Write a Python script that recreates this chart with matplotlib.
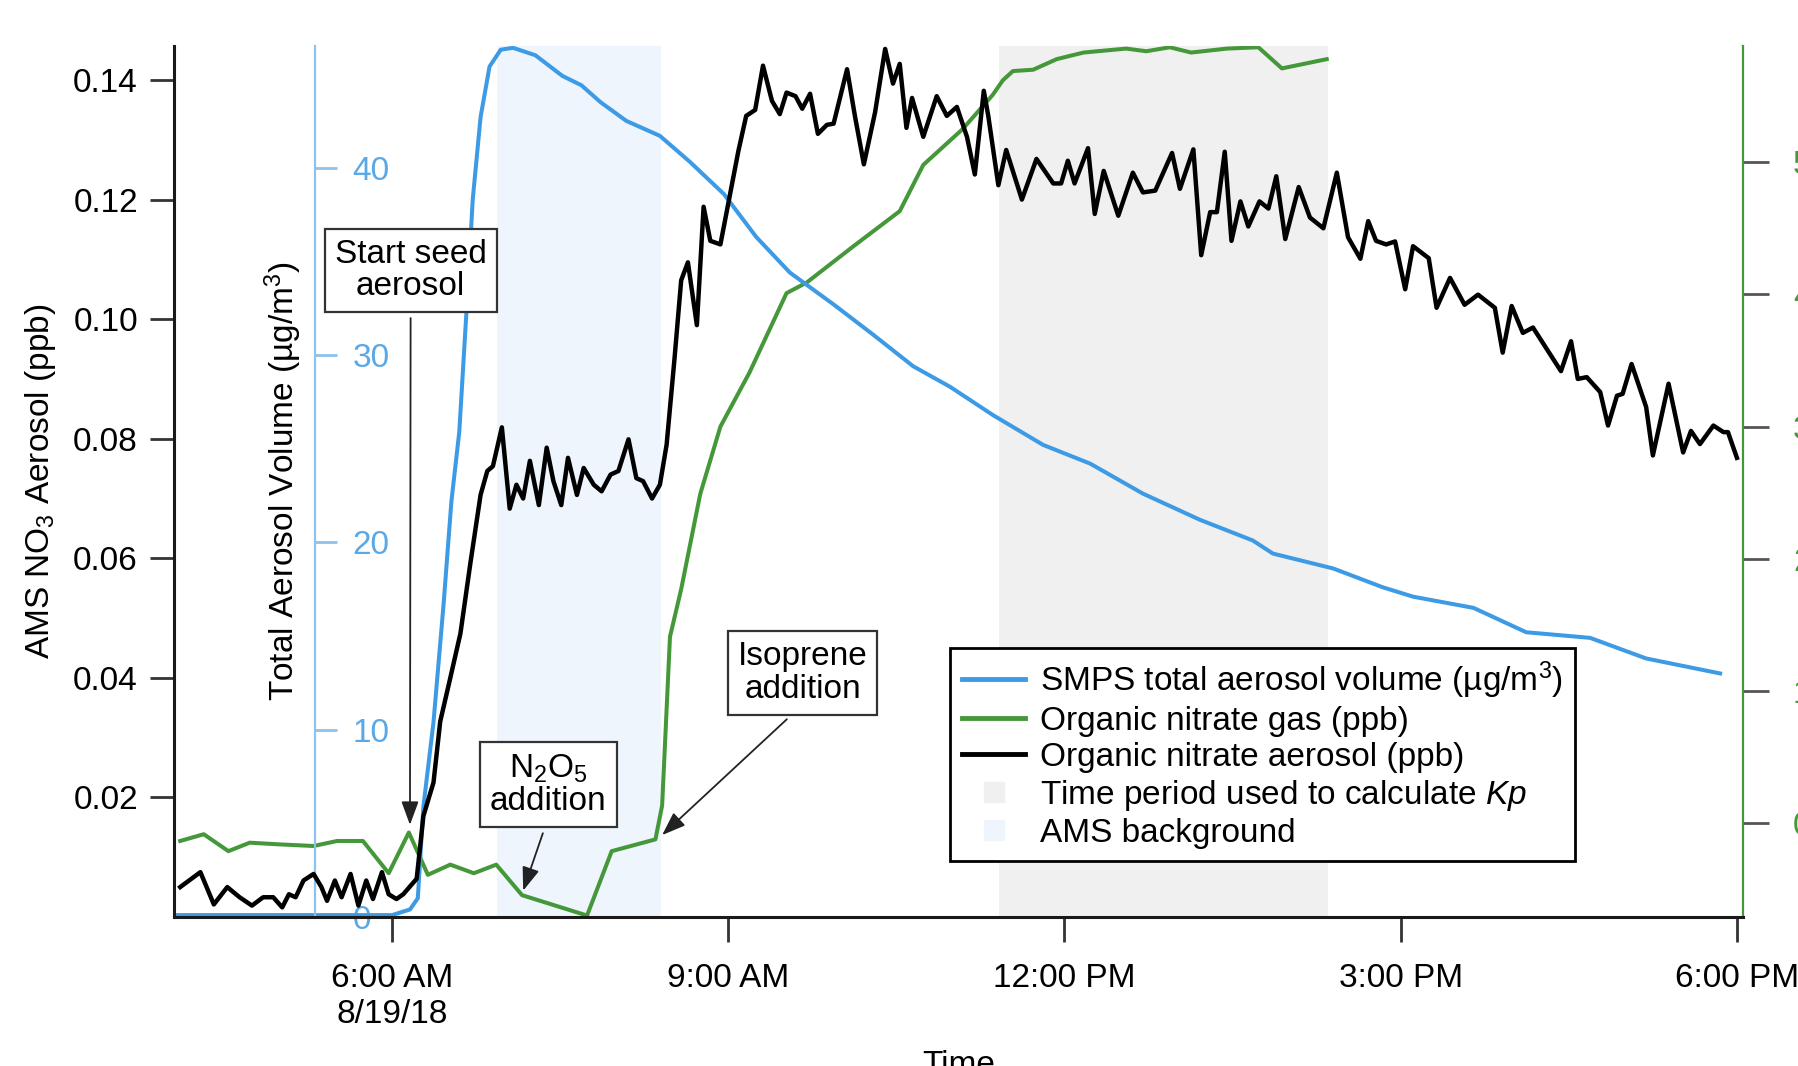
import numpy as np
import matplotlib
matplotlib.use('Agg')
import matplotlib.pyplot as plt
from matplotlib.lines import Line2D

plt.rcParams['font.family'] = ['Liberation Sans', 'DejaVu Sans']
plt.rcParams['mathtext.fontset'] = 'custom'
plt.rcParams['mathtext.rm'] = 'Liberation Sans'
plt.rcParams['mathtext.it'] = 'Liberation Sans:italic'
plt.rcParams['font.size'] = 24

# ---- data (time in hours on 8/19/18) ----
# organic nitrate aerosol, AMS (ppb)
aer_hr = [4.11, 4.29, 4.41, 4.53, 4.64, 4.75, 4.85, 4.94, 5.02, 5.08, 5.14, 5.21, 5.30, 5.37, 5.42,
          5.49, 5.55, 5.63, 5.70, 5.77, 5.83, 5.91, 5.97, 6.04, 6.10, 6.22, 6.28, 6.37, 6.43, 6.52,
          6.61, 6.70, 6.79, 6.85, 6.90, 6.98, 7.05, 7.11, 7.17, 7.23, 7.31, 7.38, 7.44, 7.51, 7.57,
          7.65, 7.71, 7.80, 7.87, 7.95, 8.02, 8.11, 8.18, 8.24, 8.32, 8.39, 8.45, 8.52, 8.58, 8.64,
          8.72, 8.78, 8.84, 8.93, 9.01, 9.09, 9.16, 9.24, 9.31, 9.39, 9.46, 9.52, 9.60, 9.66, 9.73,
          9.80, 9.88, 9.94, 10.06, 10.13, 10.21, 10.31, 10.40, 10.47, 10.53, 10.59, 10.64, 10.74,
          10.86, 10.95, 11.04, 11.13, 11.20, 11.28, 11.32, 11.41, 11.48, 11.62, 11.75, 11.90, 11.97,
          12.03, 12.09, 12.21, 12.27, 12.35, 12.48, 12.61, 12.70, 12.81, 12.96, 13.03, 13.15, 13.22,
          13.30, 13.36, 13.43, 13.49, 13.57, 13.64, 13.74, 13.82, 13.89, 13.97, 14.09, 14.19, 14.31,
          14.43, 14.53, 14.64, 14.71, 14.78, 14.87, 14.95, 15.04, 15.11, 15.25, 15.32, 15.44, 15.57,
          15.69, 15.84, 15.91, 15.99, 16.09, 16.18, 16.43, 16.52, 16.58, 16.66, 16.78, 16.85, 16.93,
          16.98, 17.06, 17.19, 17.25, 17.39, 17.52, 17.59, 17.67, 17.79, 17.88, 17.92, 18.00]
aer_ppb = [.0050, .0075, .0021, .0050, .0033, .0019, .0033, .0033, .0016, .0038, .0033, .0061, .0072,
           .0050, .0027, .0061, .0033, .0072, .0019, .0061, .0030, .0075, .0038, .0030, .0038, .0064,
           .0169, .0225, .0327, .0400, .0474, .0593, .0706, .0746, .0754, .0819, .0683, .0723, .0700,
           .0763, .0689, .0785, .0729, .0689, .0768, .0706, .0751, .0723, .0712, .0740, .0746, .0799,
           .0734, .0729, .0700, .0723, .0790, .0933, .1065, .1095, .0990, .1188, .1131, .1125, .1203,
           .1281, .1340, .1350, .1424, .1365, .1343, .1379, .1373, .1352, .1377, .1310, .1325, .1327,
           .1418, .1340, .1259, .1346, .1452, .1394, .1427, .1320, .1370, .1305, .1373, .1340, .1355,
           .1305, .1242, .1382, .1340, .1224, .1283, .1200, .1268, .1227, .1227, .1265, .1227, .1286,
           .1176, .1248, .1173, .1245, .1212, .1215, .1278, .1218, .1284, .1107, .1179, .1179, .1280,
           .1131, .1197, .1155, .1197, .1185, .1239, .1134, .1221, .1170, .1152, .1245, .1137, .1101,
           .1164, .1131, .1125, .1130, .1050, .1122, .1102, .1019, .1069, .1024, .1041, .1019, .0944,
           .1022, .0977, .0986, .0913, .0963, .0900, .0903, .0878, .0822, .0872, .0875, .0925, .0853,
           .0772, .0892, .0777, .0813, .0791, .0822, .0811, .0811, .0768]

# organic nitrate gas (ppb)
gas_hr = [4.11, 4.32, 4.54, 4.73, 5.00, 5.30, 5.51, 5.74, 5.97, 6.15, 6.32, 6.52, 6.73, 6.93, 7.16,
          7.74, 7.96, 8.35, 8.41, 8.48, 8.58, 8.75, 8.93, 9.19, 9.52, 9.70, 10.11, 10.53, 10.74,
          11.09, 11.36, 11.45, 11.54, 11.72, 11.93, 12.17, 12.55, 12.73, 12.94, 13.13, 13.45, 13.73,
          13.94, 14.34]
gas_ppb = [-0.135, -0.084, -0.212, -0.148, -0.161, -0.173, -0.135, -0.135, -0.379, -0.071, -0.391,
           -0.314, -0.379, -0.314, -0.545, -0.699, -0.212, -0.123, 0.133, 1.41, 1.77, 2.49, 3.00,
           3.41, 4.01, 4.09, 4.36, 4.63, 4.98, 5.25, 5.51, 5.62, 5.69, 5.70, 5.78, 5.83, 5.86, 5.84,
           5.87, 5.83, 5.86, 5.87, 5.71, 5.78]

# SMPS total aerosol volume (ug/m3)
vol_hr = [4.09, 5.00, 6.00, 6.16, 6.23, 6.28, 6.37, 6.46, 6.53, 6.60, 6.67, 6.72, 6.79, 6.87, 6.97,
          7.08, 7.28, 7.52, 7.69, 7.86, 8.09, 8.39, 8.66, 8.96, 9.25, 9.55, 9.94, 10.29, 10.65,
          10.98, 11.36, 11.81, 12.23, 12.70, 13.21, 13.68, 13.86, 14.40, 14.84, 15.11, 15.65,
          16.12, 16.69, 17.19, 17.85]
vol_um3 = [0.1, 0.1, 0.1, 0.4, 1.0, 5.9, 10.4, 16.7, 22.2, 25.9, 32.9, 38.3, 42.7, 45.4, 46.3, 46.4,
           46.0, 44.9, 44.4, 43.5, 42.5, 41.7, 40.3, 38.6, 36.3, 34.4, 32.7, 31.1, 29.4, 28.3, 26.8,
           25.2, 24.2, 22.6, 21.2, 20.1, 19.4, 18.6, 17.6, 17.1, 16.5, 15.2, 14.9, 13.8, 13.0]

ams_bg = (6.94, 8.40)       # AMS background period
kp_period = (11.42, 14.35)  # period used for Kp

xticks = [6, 9, 12, 15, 18]
xtick_labels = ['6:00 AM\n8/19/18', '9:00 AM', '12:00 PM', '3:00 PM', '6:00 PM']
legend_labels = ['SMPS total aerosol volume (µg/m$^3$)', 'Organic nitrate gas (ppb)',
                 'Organic nitrate aerosol (ppb)', 'Time period used to calculate $\\mathit{Kp}$',
                 'AMS background']

BLUE = '#3D9BE6'
BLUE_AX = '#8CC2EC'
GREEN = '#45983A'
KP_C = '#F0F0F0'
AMS_C = '#EEF5FD'

fig = plt.figure(figsize=(17.98, 10.66), dpi=100)
ax = fig.add_axes([0.0968, 0.1398, 0.8726, 0.8171])
ax_g = ax.twinx()
ax_v = ax.twinx()
ax_g.set_zorder(1)
ax_v.set_zorder(2)
ax.set_zorder(3)
ax.patch.set_visible(False)

# shaded periods (drawn on the lowest axes)
ax_g.axvspan(*ams_bg, color=AMS_C, lw=0)
ax_g.axvspan(*kp_period, color=KP_C, lw=0)

ax_g.plot(gas_hr, gas_ppb, color=GREEN, lw=2.9)
ax_v.plot(vol_hr, vol_um3, color=BLUE, lw=2.9)
ax.plot(aer_hr, aer_ppb, color='black', lw=3.2)

ax.set_xlim(4.055, 18.054)
ax.set_ylim(0, 0.1457)
ax_v.set_ylim(0, 46.5)
ax_g.set_ylim(-0.71, 5.88)

# main axis
for s in ['top', 'right']:
    ax.spines[s].set_visible(False)
for s in ['left', 'bottom']:
    ax.spines[s].set_linewidth(2.2)
    ax.spines[s].set_color('#1a1a1a')
ax.set_yticks([0.02, 0.04, 0.06, 0.08, 0.10, 0.12, 0.14])
ax.yaxis.set_major_formatter(plt.FormatStrFormatter('%.2f'))
ax.set_xticks(xticks)
ax.set_xticklabels(xtick_labels)
ax.tick_params(axis='y', length=17, width=2, pad=9, color='#333333')
ax.tick_params(axis='x', length=18, width=2, pad=15, color='#333333')
ax.set_ylabel('AMS NO$_3$ Aerosol (ppb)')
ax.yaxis.set_label_coords(-0.074, 0.5)
ax.set_xlabel('Time')
ax.xaxis.set_label_coords(0.5, -0.153)

# blue volume axis, inside the plot
for s in ['left', 'top', 'bottom']:
    ax_v.spines[s].set_visible(False)
ax_v.spines['right'].set_position(('axes', 0.0899))
ax_v.spines['right'].set_color(BLUE_AX)
ax_v.spines['right'].set_linewidth(1.6)
ax_v.set_yticks([0, 10, 20, 30, 40])
ax_v.tick_params(axis='y', length=16, width=2, pad=11, color=BLUE_AX, labelcolor='#5AA8E6')
ax_v.set_ylabel('Total Aerosol Volume (µg/m$^3$)')
ax_v.yaxis.set_label_position('left')
ax_v.yaxis.set_label_coords(0.083, 0.5)

# green gas axis
for s in ['left', 'top', 'bottom']:
    ax_g.spines[s].set_visible(False)
ax_g.spines['right'].set_color(GREEN)
ax_g.spines['right'].set_linewidth(1.6)
ax_g.set_yticks([0, 1, 2, 3, 4, 5])
ax_g.tick_params(axis='y', length=19, width=2, pad=17, color='#555555', labelcolor=GREEN)

# annotations
box = dict(boxstyle='square,pad=0.3', fc='white', ec='#333333', lw=1.6)
arrow = dict(arrowstyle='-|>,head_length=0.6,head_width=0.22', color='#222222', lw=1.3,
             shrinkA=4, shrinkB=0, relpos=(0.5, 0))
ax.annotate('Start seed\naerosol', xy=(6.16, 0.0154), xytext=(6.166, 0.1082), ha='center',
            va='center', bbox=box, arrowprops=arrow, linespacing=1.05)
ax.annotate('N$_2$O$_5$\naddition', xy=(7.17, 0.0044), xytext=(7.395, 0.0221), ha='center',
            va='center', bbox=box, arrowprops=arrow, linespacing=1.05)
ax.annotate('Isoprene\naddition', xy=(8.41, 0.0137), xytext=(9.663, 0.0408), ha='center',
            va='center', bbox=box, arrowprops=arrow, linespacing=1.05)

handles = [Line2D([], [], color=BLUE, lw=3.5), Line2D([], [], color=GREEN, lw=3.5),
           Line2D([], [], color='black', lw=3.5),
           Line2D([], [], ls='none', marker='s', ms=14, mfc=KP_C, mec=KP_C),
           Line2D([], [], ls='none', marker='s', ms=14, mfc=AMS_C, mec=AMS_C)]
leg = ax.legend(handles, legend_labels, loc='upper left', bbox_to_anchor=(0.4948, 0.309),
                borderaxespad=0, frameon=True, fancybox=False, framealpha=1, edgecolor='black',
                handlelength=1.9, handletextpad=0.45, labelspacing=0.15, borderpad=0.35,
                fontsize=24)
leg.get_frame().set_linewidth(2)

fig.savefig('out.png', dpi=100)
